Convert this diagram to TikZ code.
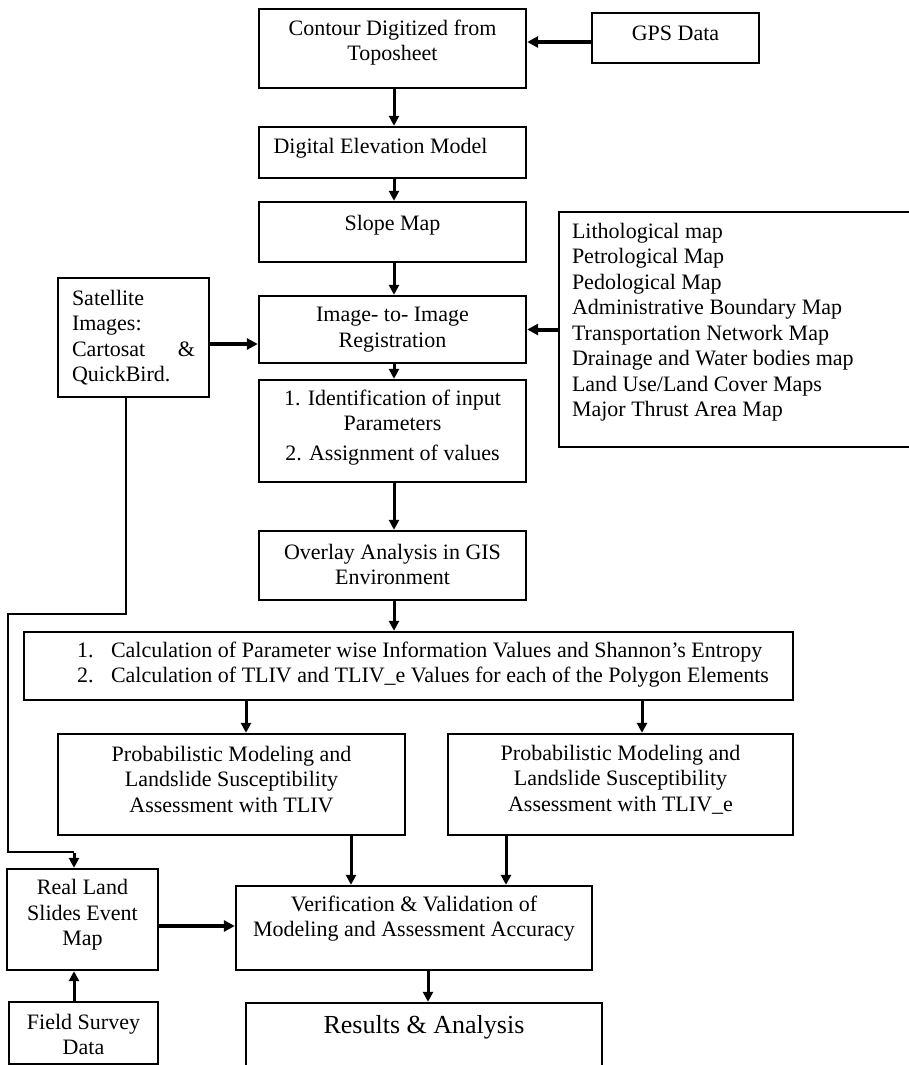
\documentclass[tikz,border=0pt]{standalone}
\usepackage{fontspec}
\setmainfont{Liberation Serif}
\usetikzlibrary{arrows.meta,calc}
\begin{document}
\begin{tikzpicture}[x=1pt,y=-1pt,
  box/.style={draw, line width=2.4pt, inner sep=0pt},
  txt/.style={font=\fontsize{22}{25.5}\selectfont, align=center, inner sep=0pt},
  arr/.style={line width=3pt, -{Triangle[length=10pt,width=10pt]}},
  thickarr/.style={line width=4pt, -{Triangle[length=11pt,width=11pt]}},
  wire/.style={line width=2pt}]
\useasboundingbox (0,0) rectangle (909,1065);
\clip (0,0) rectangle (909,1065);

% boxes
\node[box, minimum width=267pt, minimum height=79pt] (contour) at (392.5,48.5) {};
\node[box, minimum width=167pt, minimum height=50pt] (gps) at (675.5,38) {};
\node[box, minimum width=267pt, minimum height=51pt] (dem) at (392.5,152.5) {};
\node[box, minimum width=267pt, minimum height=60pt] (slope) at (392.5,232) {};
\node[box, minimum width=267pt, minimum height=67pt] (img) at (392.5,329.5) {};
\node[box, minimum width=267pt, minimum height=102pt] (ident) at (392.5,431) {};
\node[box, minimum width=151pt, minimum height=119pt] (sat) at (133.5,337.5) {};
\node[box, minimum width=358pt, minimum height=235pt] (litho) at (738,329.5) {};
\node[box, minimum width=267pt, minimum height=69pt] (overlay) at (392.5,565.5) {};
\node[box, minimum width=769pt, minimum height=68pt] (calc) at (408.5,666) {};
\node[box, minimum width=347pt, minimum height=101pt] (pm1) at (231.5,784.5) {};
\node[box, minimum width=345pt, minimum height=101pt] (pm2) at (620.5,784.5) {};
\node[box, minimum width=356pt, minimum height=84pt] (verif) at (414,928) {};
\node[box, minimum width=151pt, minimum height=101pt] (real) at (82.5,919.5) {};
\node[box, minimum width=149pt, minimum height=62pt] (field) at (83.5,1033) {};
\node[box, minimum width=356pt, minimum height=72pt] (results) at (424,1039) {};

% texts
\node[txt] (contourT) at ([yshift=6pt]contour.center) {Contour Digitized from\\Toposheet};
\node[txt] (gpsT) at ([yshift=5pt]gps.center) {GPS Data};
\node[txt] (demT) at ([xshift=-12pt,yshift=4.5pt]dem.center) {Digital Elevation Model};
\node[txt] (slopeT) at ([yshift=7pt]slope.center) {Slope Map};
\node[txt] (imgT) at (img.center) {Image- to- Image\\Registration};
\node[txt] (identT) at ([yshift=3.5pt]ident.center) {1. Identification of input\\Parameters\\[4pt]2. Assignment of values};
\node[txt, text width=123pt, align=left] (satT) at (sat.center) {Satellite\\Images:\\Cartosat\hfill\&\\QuickBird.};
\node[txt, align=left, anchor=north west] (lithoT) at ([xshift=14pt,yshift=-12pt]litho.north west) {Lithological map\\Petrological Map\\Pedological Map\\Administrative Boundary Map\\Transportation Network Map\\Drainage and Water bodies map\\Land Use/Land Cover Maps\\Major Thrust Area Map};
\node[txt] (overlayT) at ([yshift=1pt]overlay.center) {Overlay Analysis in GIS\\Environment};
\node[txt, align=left] (calcT) at ([xshift=14.5pt,yshift=1.5pt]calc.center) {\makebox[34pt][l]{1.}Calculation of Parameter wise Information Values and Shannon’s Entropy\\\makebox[34pt][l]{2.}Calculation of TLIV and TLIV\_e Values for each of the Polygon Elements};
\node[txt] (pm1T) at ([yshift=5pt]pm1.center) {Probabilistic Modeling and\\Landslide Susceptibility\\Assessment with TLIV};
\node[txt] (pm2T) at ([yshift=5pt]pm2.center) {Probabilistic Modeling and\\Landslide Susceptibility\\Assessment with TLIV\_e};
\node[txt] (verifT) at ([yshift=9.5pt]verif.center) {Verification \& Validation of\\Modeling and Assessment Accuracy};
\node[txt] (realT) at ([yshift=4.5pt]real.center) {Real Land\\Slides Event\\Map};
\node[txt] (fieldT) at ([yshift=-1.5pt]field.center) {Field Survey\\Data};
\node[txt, font=\fontsize{26}{30}\selectfont] (resultsT) at ([yshift=12pt]results.center) {Results \& Analysis};

% helper coordinates
\coordinate (gpsOut) at ([yshift=-4pt]gps.west);
\coordinate (satOut) at ([yshift=-6.5pt]sat.east);
\coordinate (satDown) at ([xshift=-7.5pt]sat.south);
\coordinate (jog1) at (126,614);
\coordinate (jog2) at (8,614);
\coordinate (jog3) at (8,852);
\coordinate (realIn) at ([xshift=-8.5pt]real.north);
\coordinate (p1In) at ([xshift=14.5pt]pm1.north);
\coordinate (p2In) at ([xshift=21.5pt]pm2.north);
\coordinate (p1Out) at ([xshift=119.5pt]pm1.south);
\coordinate (p2Out) at ([xshift=-114.5pt]pm2.south);
\coordinate (realOut) at ([yshift=-6.5pt]real.east);
\coordinate (fieldOut) at ([xshift=-9.5pt]field.north);
\coordinate (verifOut) at ([xshift=14pt]verif.south);

% connectors
\draw[thickarr] (gpsOut) -- (gpsOut -| contour.east);
\draw[arr] ([xshift=1.5pt]contour.south) -- ([xshift=1.5pt]dem.north);
\draw[arr] ([xshift=1.5pt]dem.south) -- ([xshift=1.5pt]slope.north);
\draw[arr] ([xshift=1.5pt]slope.south) -- ([xshift=1.5pt]img.north);
\draw[arr] ([xshift=1.5pt]img.south) -- ([xshift=1.5pt]ident.north);
\draw[arr] ([xshift=1.5pt]ident.south) -- ([xshift=1.5pt]overlay.north);
\draw[arr] ([xshift=1.5pt]overlay.south) -- ([xshift=1.5pt]overlay.south |- calc.north);
\draw[thickarr] (satOut) -- (satOut -| img.west);
\draw[thickarr] (litho.west) -- (litho.west -| img.east);
\draw[arr] (calc.south -| p1In) -- (p1In);
\draw[arr] (calc.south -| p2In) -- (p2In);
\draw[arr] (p1Out) -- (p1Out |- verif.north);
\draw[arr] (p2Out) -- (p2Out |- verif.north);
\draw[wire] (satDown) -- (jog1) -- (jog2) -- (jog3) -- (jog3 -| realIn);
\draw[arr] ([yshift=-1pt]jog3 -| realIn) -- (realIn);
\draw[thickarr] (realOut) -- (realOut -| verif.west);
\draw[arr] (fieldOut) -- (fieldOut |- real.south);
\draw[arr] (verifOut) -- (verifOut |- results.north);
\end{tikzpicture}
\end{document}
